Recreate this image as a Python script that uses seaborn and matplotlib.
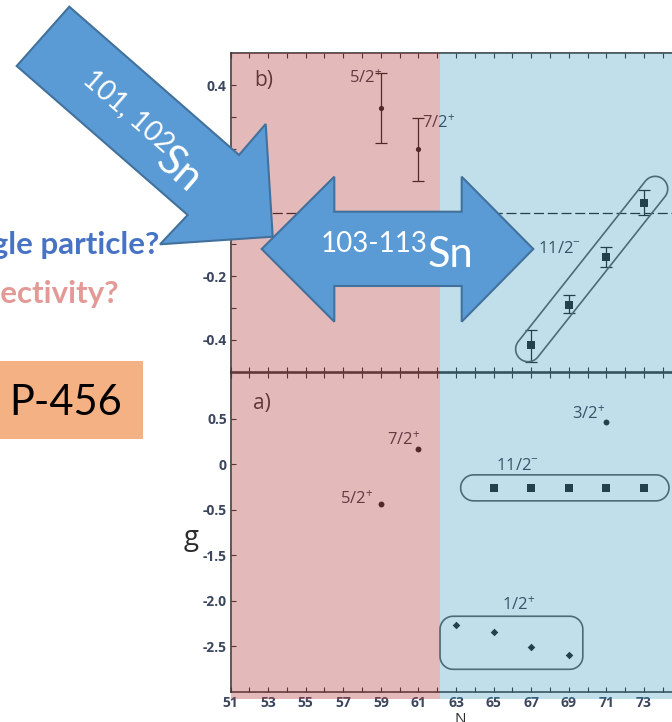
import numpy as np
import seaborn as sns
import matplotlib.pyplot as plt
import matplotlib.transforms as mtransforms
from matplotlib.patches import Polygon, Rectangle

# figure size in pixels (dpi 100)
W, H = 672, 722

# ---- values ----
# panel b): measured values with error bars
b_pos_n = [59, 61]
b_pos_g = [0.327, 0.198]
b_pos_lo = [0.218, 0.098]
b_pos_hi = [0.437, 0.297]
b_pos_lab = ['5/2', '7/2']

b_h11_n = [67, 69, 71, 73]
b_h11_g = [-0.417, -0.289, -0.140, 0.030]
b_h11_lo = [-0.470, -0.315, -0.170, -0.009]
b_h11_hi = [-0.370, -0.260, -0.107, 0.072]

# panel a): g factors
a_pos_n = [59, 61, 71]
a_pos_g = [-0.44, 0.17, 0.46]
a_pos_lab = ['5/2', '7/2', '3/2']
a_h11_n = [65, 67, 69, 71, 73]
a_h11_g = [-0.26, -0.26, -0.26, -0.26, -0.26]
a_s12_n = [63, 65, 67, 69]
a_s12_g = [-2.27, -2.34, -2.51, -2.60]

# axes / ticks
n_min, n_max = 51, 75.5
n_ticks = list(range(51, 76))
n_labels = [str(n) if n % 2 else '' for n in n_ticks]
b_yticks = [-0.4, -0.3, -0.2, -0.1, 0.0, 0.1, 0.2, 0.3, 0.4]
b_ylabels = ['-0.4', '', '-0.2', '', '0', '', '0.2', '', '0.4']
a_yticks = [0.5, 0.0, -0.5, -1.5, -2.0, -2.5]
a_ylabels = ['0.5', '0', '-0.5', '-1.5', '-2.0', '-2.5']
split_n = 62.15          # red / blue boundary


def brk(vals):
    # the g axis of panel a) skips the -1.0 step
    return [v if v > -1.0 else v + 0.5 for v in vals]


ink = '#1c1c1c'
lab_c = '#363645'
spine_c = '#2a2a2a'
tick_c = '#3c465e'

sns.set_theme(style='white')
plt.rcParams['font.family'] = ['Open Sans', 'DejaVu Sans']
plt.rcParams['mathtext.fontset'] = 'custom'
plt.rcParams['mathtext.rm'] = 'Open Sans'
plt.rcParams['mathtext.it'] = 'Open Sans'
plt.rcParams['mathtext.bf'] = 'Open Sans:bold'
plt.rcParams['mathtext.default'] = 'regular'

fig = plt.figure(figsize=(W / 100, H / 100), dpi=100)
fig.patch.set_facecolor('white')


def px_axes(left, top, right, bottom, **kw):
    return fig.add_axes([left / W, 1 - bottom / H, (right - left) / W, (bottom - top) / H], **kw)


ax_b = px_axes(230.5, 53.3, 691.0, 371.7)
ax_a = px_axes(230.5, 373.2, 691.0, 691.7)

for ax in (ax_b, ax_a):
    ax.set_xlim(n_min, n_max)
    ax.set_facecolor('white')
    for sp in ax.spines.values():
        sp.set_visible(True)
        sp.set_color(spine_c)
        sp.set_linewidth(1.1)
    ax.tick_params(axis='both', which='both', direction='in', length=3.6, width=0.8,
                   color=spine_c, labelsize=10, labelcolor=tick_c)
    ax.tick_params(axis='x', top=True, bottom=True, pad=3.2)
    ax.tick_params(axis='y', left=True, right=False, pad=2.7)

ax_b.set_ylim(-0.5, 0.5)
ax_b.set_xticks(n_ticks, [''] * len(n_ticks))
ax_b.set_yticks(b_yticks, b_ylabels)
ax_a.set_ylim(-2.5, 1.0)
ax_a.set_xticks(n_ticks, n_labels)
ax_a.set_yticks(brk(a_yticks), a_ylabels)
for ax in (ax_b, ax_a):
    for t in ax.get_xticklabels() + ax.get_yticklabels():
        t.set_fontweight('bold')

ax_a.set_xlabel('N', fontsize=11, labelpad=1, color='#2b2b2b')
ax_a.set_ylabel('g', rotation=0, fontsize=20, color='#2b2b2b', ha='center', va='center')
ax_a.yaxis.set_label_coords(-0.0858, 0.4835)

# ---- panel b) ----
ax_b.axhline(0, color=ink, lw=0.9, ls=(0, (8, 3)), zorder=1)
ax_b.errorbar(b_pos_n, b_pos_g,
              yerr=[np.subtract(b_pos_g, b_pos_lo), np.subtract(b_pos_hi, b_pos_g)],
              fmt='none', ecolor=ink, elinewidth=0.9, capsize=4, capthick=0.9, zorder=2)
ax_b.errorbar(b_h11_n, b_h11_g,
              yerr=[np.subtract(b_h11_g, b_h11_lo), np.subtract(b_h11_hi, b_h11_g)],
              fmt='none', ecolor=ink, elinewidth=0.9, capsize=4, capthick=0.9, zorder=2)
sns.scatterplot(x=b_pos_n, y=b_pos_g, ax=ax_b, marker='o', s=14, color=ink, linewidth=0, zorder=3)
sns.scatterplot(x=b_h11_n, y=b_h11_g, ax=ax_b, marker='s', s=33, color=ink, linewidth=0, zorder=3)

# ---- panel a) ----
sns.scatterplot(x=a_pos_n, y=a_pos_g, ax=ax_a, marker='o', s=18, color=ink, linewidth=0, zorder=3)
sns.scatterplot(x=a_h11_n, y=brk(a_h11_g), ax=ax_a, marker='s', s=28, color=ink, linewidth=0, zorder=3)
sns.scatterplot(x=a_s12_n, y=brk(a_s12_g), ax=ax_a, marker='D', s=15, color=ink, linewidth=0, zorder=3)


def state_label(ax, n, g, txt, sup, dx, dy, ha):
    ax.annotate(txt + '$^{' + sup + '}$', xy=(n, g), xytext=(dx, dy),
                textcoords='offset pixels', ha=ha, va='baseline', fontsize=12, color=lab_c)


state_label(ax_b, b_pos_n[0], b_pos_g[0], b_pos_lab[0], '+', 1, 25, 'right')
state_label(ax_b, b_pos_n[1], b_pos_g[1], b_pos_lab[1], '+', 4, 21, 'left')
state_label(ax_b, b_h11_n[1], b_h11_g[1], '11/2', '-', -31, 52, 'left')
state_label(ax_a, a_pos_n[0], a_pos_g[0], a_pos_lab[0], '+', -8, 0, 'right')
state_label(ax_a, a_pos_n[1], a_pos_g[1], a_pos_lab[1], '+', 2, 4, 'right')
state_label(ax_a, a_pos_n[2], a_pos_g[2], a_pos_lab[2], '+', -1, 3, 'right')
state_label(ax_a, a_h11_n[0], brk(a_h11_g)[0], '11/2', '-', 2, 18, 'left')
state_label(ax_a, a_s12_n[0], brk(a_s12_g)[0], '1/2', '+', 46, 15, 'left')

ax_b.annotate('b)', xy=(0, 1), xycoords='axes fraction', xytext=(24, -17),
              textcoords='offset pixels', ha='left', va='top', fontsize=15, color='#333333')
ax_a.annotate('a)', xy=(0, 1), xycoords='axes fraction', xytext=(23, -20),
              textcoords='offset pixels', ha='left', va='top', fontsize=15, color='#333333')


# ---- rounded outlines around groups (sizes in pixels) ----
def rounded_outline(cx, cy, ang, hl, hh, rad, n=16):
    pts = []
    for ox, oy, a0 in [(hl - rad, hh - rad, 0), (-(hl - rad), hh - rad, 90),
                       (-(hl - rad), -(hh - rad), 180), (hl - rad, -(hh - rad), 270)]:
        t = np.radians(np.linspace(a0, a0 + 90, n))
        pts += list(zip(ox + rad * np.cos(t), oy + rad * np.sin(t)))
    pts = np.array(pts)
    c, s = np.cos(ang), np.sin(ang)
    return np.column_stack([cx + c * pts[:, 0] - s * pts[:, 1], cy + s * pts[:, 0] + c * pts[:, 1]])


def group_pill(ax, xs, ys, r, pad0, pad1):
    p = ax.transData.transform(np.column_stack([xs, ys]))
    a, b = p[0], p[-1]
    u = (b - a) / np.linalg.norm(b - a)
    e0, e1 = a - pad0 * u, b + pad1 * u
    c = (e0 + e1) / 2
    pts = rounded_outline(c[0], c[1], np.arctan2(u[1], u[0]), np.linalg.norm(e1 - e0) / 2 + r, r, r)
    ax.add_patch(Polygon(pts, closed=True, fill=False, ec='#585858', lw=1.2, zorder=2,
                         transform=mtransforms.IdentityTransform()))


def group_box(ax, xs, ys, pl, pr, pt, pb, rad):
    p = ax.transData.transform(np.column_stack([xs, ys]))
    x0, x1 = p[:, 0].min() - pl, p[:, 0].max() + pr
    y0, y1 = p[:, 1].min() - pb, p[:, 1].max() + pt
    pts = rounded_outline((x0 + x1) / 2, (y0 + y1) / 2, 0, (x1 - x0) / 2, (y1 - y0) / 2, rad)
    ax.add_patch(Polygon(pts, closed=True, fill=False, ec='#585858', lw=1.2, zorder=2,
                         transform=mtransforms.IdentityTransform()))


group_pill(ax_b, b_h11_n, b_h11_g, 12.5, 5, 18)
group_pill(ax_a, a_h11_n, brk(a_h11_g), 13, 20, 12)
group_box(ax_a, a_s12_n, brk(a_s12_g), 16, 14, 9, 14, 13)

# ---- translucent red / blue regions over both panels ----
trans = mtransforms.blended_transform_factory(ax_a.transData, ax_a.transAxes)
y_lo, y_hi = -0.023, 2.004
ax_a.add_patch(Rectangle((n_min, y_lo), split_n - n_min, y_hi - y_lo, transform=trans,
                         fc='#b43f3f', alpha=0.36, lw=0, clip_on=False, zorder=6))
ax_a.add_patch(Rectangle((split_n, y_lo), n_max - split_n, y_hi - y_lo, transform=trans,
                         fc='#3498bc', alpha=0.30, lw=0, clip_on=False, zorder=6))

# ---- slide overlay: arrows, labels, poster box (pixel coordinates) ----
ov = fig.add_axes([0, 0, 1, 1], zorder=10)
ov.set_xlim(0, W)
ov.set_ylim(H, 0)
ov.axis('off')

arrow_fc, arrow_ec = '#5b9bd5', '#41719c'
double_arrow = [(261.7, 249), (334.3, 176.7), (334.3, 211.7), (461.7, 211.7), (461.7, 176.7),
                (533.3, 249), (461.7, 321.7), (461.7, 286), (334.3, 286), (334.3, 321.7)]
diag_arrow = [(16.7, 66), (69.3, 6.7), (239, 155), (265.7, 124), (272.7, 236.7),
              (160, 244.3), (187.7, 215)]
ov.add_patch(Polygon(double_arrow, closed=True, fc=arrow_fc, ec=arrow_ec, lw=1.5))
ov.add_patch(Polygon(diag_arrow, closed=True, fc=arrow_fc, ec=arrow_ec, lw=1.5))

ov.text(374.2, 251.7, '103-113', fontsize=20, color='white', ha='center', va='baseline', family='Lato')
ov.text(450.8, 267.3, 'Sn', fontsize=30, color='white', ha='center', va='baseline', family='Lato')
ov.text(123.6, 116.7, '101, 102', fontsize=20, color='white', ha='center', va='baseline',
        rotation=-41, rotation_mode='anchor', family='Lato')
ov.text(171.2, 178.8, 'Sn', fontsize=30, color='white', ha='center', va='baseline',
        rotation=-41, rotation_mode='anchor', family='Lato')

# slide text, its left part runs off the crop as in the reference
ov.text(159, 254.3, 'Single particle?', fontsize=22.5, fontweight='bold', color='#4673c4',
        ha='right', va='baseline', family='Lato')
ov.text(119, 303.3, 'Collectivity?', fontsize=22.5, fontweight='bold', color='#e39a96',
        ha='right', va='baseline', family='Lato')

ov.add_patch(Rectangle((0, 361), 143, 78, fc='#f4b183', lw=0))
ov.text(9, 415, 'P-456', fontsize=30, color='black', ha='left', va='baseline', family='Lato')

fig.savefig('out.png', dpi=100, facecolor='white')
